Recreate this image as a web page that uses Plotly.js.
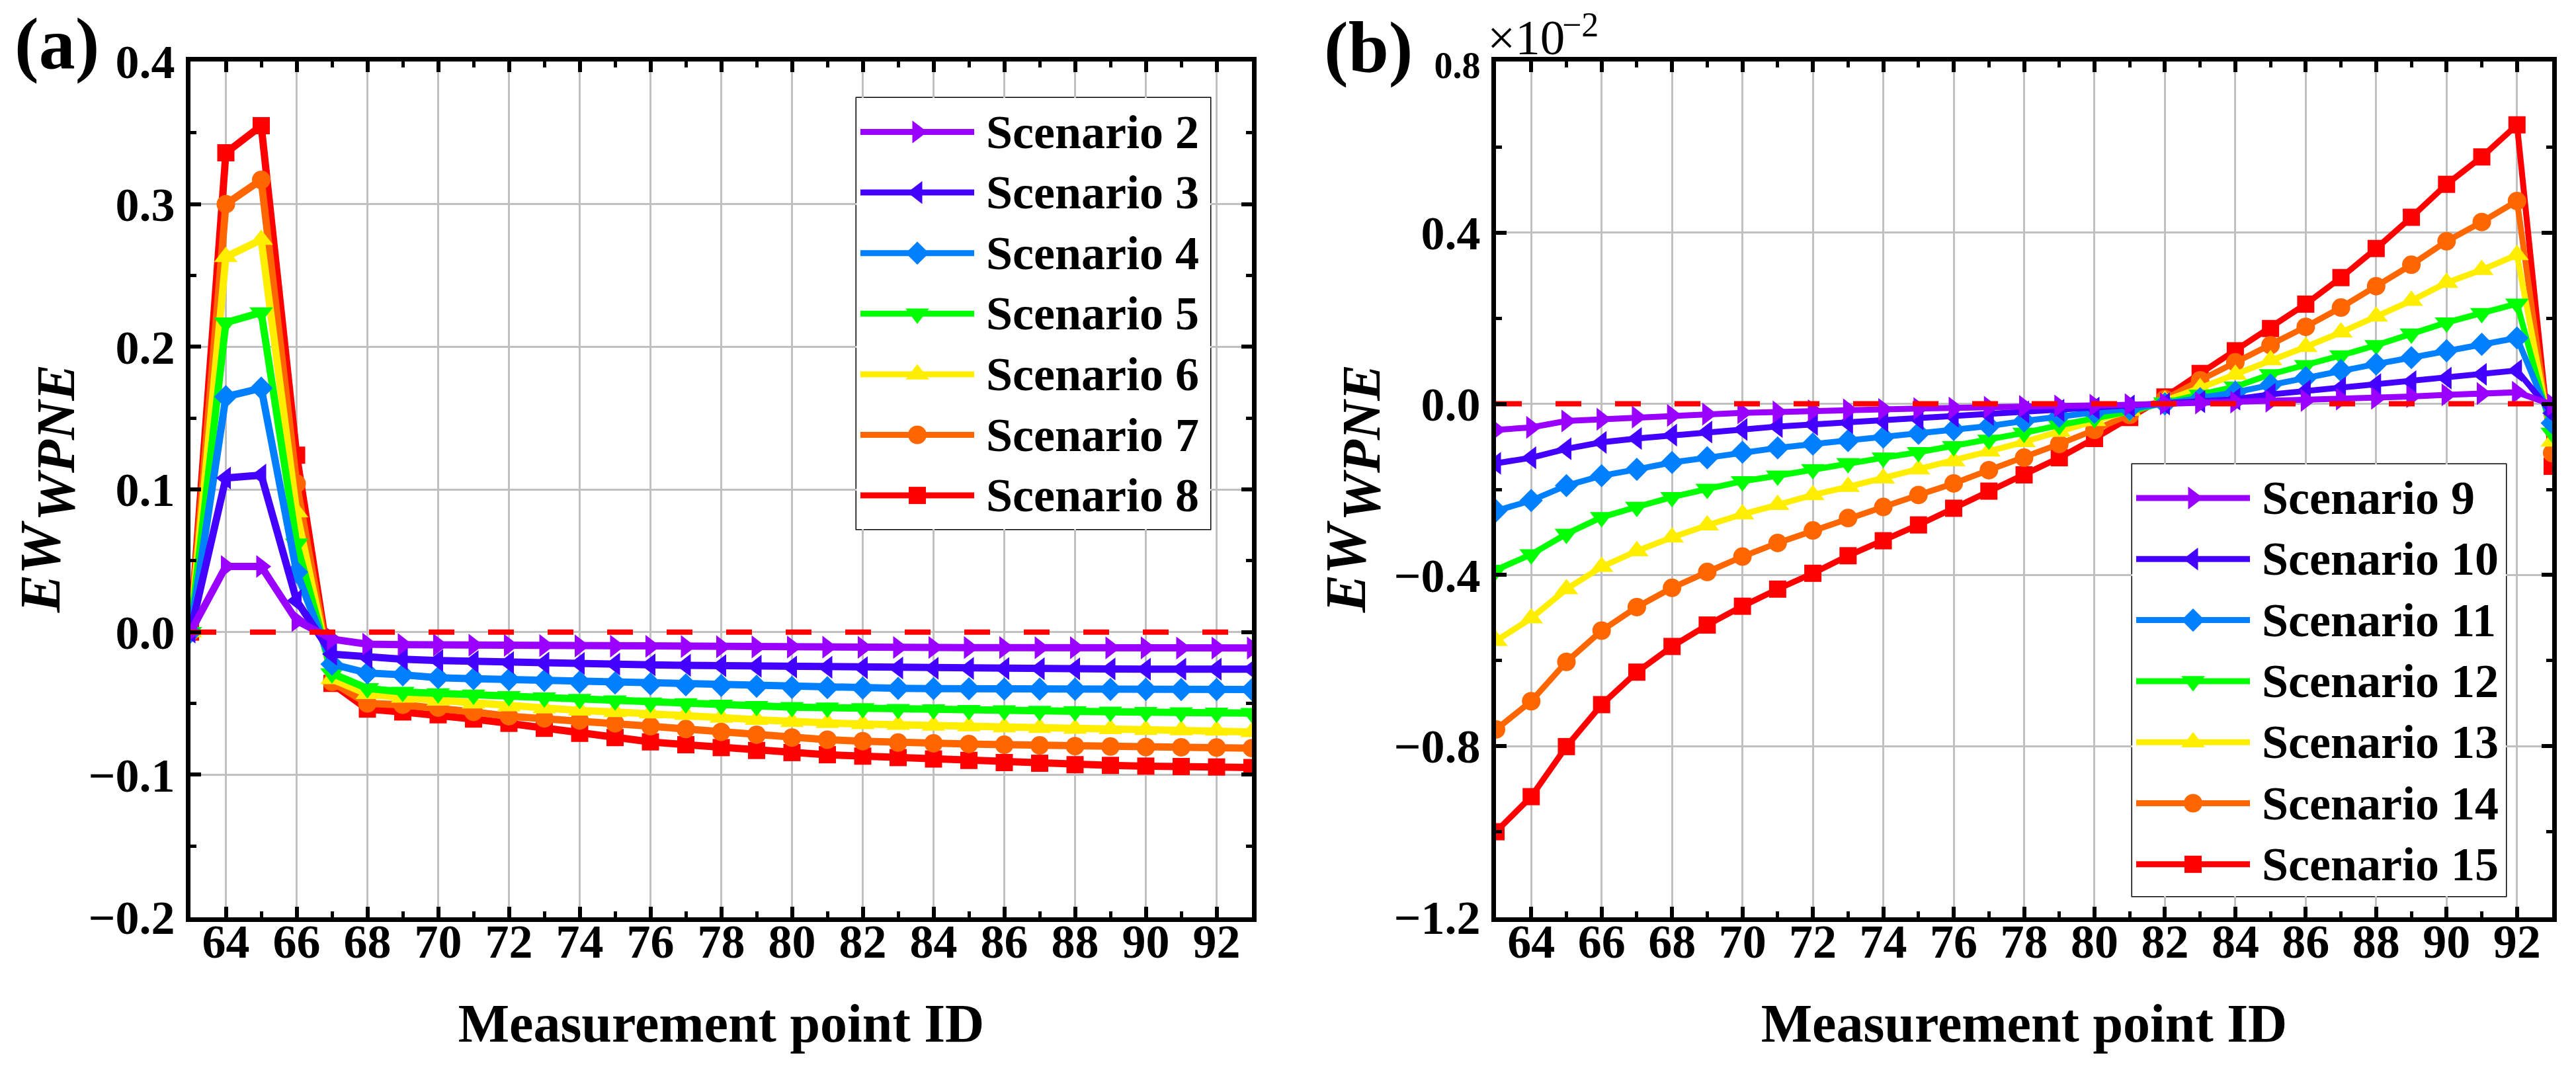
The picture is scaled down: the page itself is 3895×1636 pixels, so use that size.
<!DOCTYPE html>
<html>
<head>
<meta charset="utf-8">
<script src="https://cdn.plot.ly/plotly-3.0.1.min.js"></script>
<style>
  html, body { margin: 0; padding: 0; background: #ffffff; }
  #chart { width: 3895px; height: 1636px; }
</style>
</head>
<body>
<div id="chart"></div>
<script>
// ---------- Data ----------
const pointIds = [63, 64, 65, 66, 67, 68, 69, 70, 71, 72, 73, 74, 75, 76, 77, 78,
                  79, 80, 81, 82, 83, 84, 85, 86, 87, 88, 89, 90, 91, 92, 93];

// panel (a)
const namesA = ["Scenario 2", "Scenario 3", "Scenario 4", "Scenario 5",
                "Scenario 6", "Scenario 7", "Scenario 8"];
const scen2 = [0, 0.046, 0.046, 0.008, -0.005, -0.0085, -0.0088, -0.009, -0.0092, -0.0093, -0.0095,
               -0.0097, -0.0099, -0.010, -0.0102, -0.0103, -0.0104, -0.0105, -0.0106, -0.0107, -0.0108,
               -0.0108, -0.0109, -0.0109, -0.011, -0.011, -0.0111, -0.0111, -0.0112, -0.0112, -0.0112];
const scen3 = [0, 0.108, 0.110, 0.022, -0.0155, -0.0178, -0.019, -0.020, -0.0207, -0.0214, -0.0218,
               -0.022, -0.0225, -0.023, -0.0233, -0.0236, -0.024, -0.0245, -0.0247, -0.025, -0.0252,
               -0.0254, -0.0255, -0.0256, -0.0257, -0.0258, -0.0259, -0.026, -0.026, -0.026, -0.026];
const scen4 = [0, 0.165, 0.171, 0.042, -0.0225, -0.0287, -0.030, -0.032, -0.0327, -0.0333, -0.034,
               -0.035, -0.0357, -0.0364, -0.037, -0.0375, -0.038, -0.0388, -0.039, -0.0393, -0.0395,
               -0.0397, -0.0398, -0.040, -0.040, -0.0401, -0.0402, -0.0402, -0.0403, -0.0403, -0.0403];
const scen5 = [0, 0.217, 0.224, 0.062, -0.029, -0.0395, -0.042, -0.043, -0.044, -0.045, -0.046,
               -0.047, -0.048, -0.0495, -0.050, -0.051, -0.052, -0.0527, -0.053, -0.0535, -0.054,
               -0.0543, -0.0547, -0.055, -0.0553, -0.0556, -0.0559, -0.0562, -0.0564, -0.0566, -0.0568];
const scen6 = [0, 0.263, 0.275, 0.084, -0.033, -0.0434, -0.046, -0.048, -0.050, -0.052, -0.0535,
               -0.055, -0.056, -0.057, -0.058, -0.060, -0.0615, -0.063, -0.0637, -0.0645, -0.065,
               -0.0655, -0.066, -0.0667, -0.0672, -0.0677, -0.068, -0.0685, -0.0688, -0.069, -0.070];
const scen7 = [0, 0.300, 0.317, 0.104, -0.035, -0.050, -0.051, -0.053, -0.056, -0.059, -0.0605,
               -0.062, -0.064, -0.066, -0.068, -0.070, -0.072, -0.074, -0.0755, -0.0765, -0.0775,
               -0.078, -0.0785, -0.079, -0.0795, -0.080, -0.0803, -0.0806, -0.0808, -0.081, -0.0814];
const scen8 = [0, 0.336, 0.355, 0.124, -0.036, -0.054, -0.056, -0.058, -0.061, -0.064, -0.0675,
               -0.071, -0.074, -0.077, -0.079, -0.081, -0.083, -0.0845, -0.086, -0.087, -0.088,
               -0.089, -0.090, -0.0915, -0.092, -0.093, -0.0935, -0.094, -0.0943, -0.0946, -0.095];

// panel (b), values in units of 1e-2
const namesB = ["Scenario 9", "Scenario 10", "Scenario 11", "Scenario 12",
                "Scenario 13", "Scenario 14", "Scenario 15"];
const scen9 = [-0.061, -0.055, -0.040, -0.036, -0.031, -0.027, -0.024, -0.021, -0.019, -0.016, -0.014,
               -0.013, -0.011, -0.010, -0.008, -0.006, -0.005, -0.003, -0.002, 0.000, 0.002,
               0.004, 0.006, 0.008, 0.011, 0.013, 0.017, 0.021, 0.024, 0.027, -0.002];
const scen10 = [-0.139, -0.126, -0.105, -0.090, -0.081, -0.073, -0.066, -0.060, -0.053, -0.048, -0.044,
                -0.040, -0.035, -0.029, -0.025, -0.019, -0.015, -0.010, -0.005, 0.000, 0.005,
                0.011, 0.022, 0.030, 0.037, 0.045, 0.052, 0.060, 0.069, 0.078, -0.022];
const scen11 = [-0.250, -0.226, -0.191, -0.168, -0.153, -0.137, -0.126, -0.113, -0.103, -0.094, -0.086,
                -0.078, -0.069, -0.060, -0.052, -0.040, -0.029, -0.020, -0.012, 0.000, 0.012,
                0.027, 0.044, 0.061, 0.078, 0.093, 0.108, 0.124, 0.139, 0.154, -0.045];
const scen12 = [-0.388, -0.352, -0.304, -0.265, -0.241, -0.218, -0.199, -0.181, -0.168, -0.153, -0.139,
                -0.126, -0.113, -0.099, -0.084, -0.068, -0.050, -0.034, -0.018, 0.003, 0.021,
                0.040, 0.069, 0.090, 0.113, 0.137, 0.164, 0.190, 0.212, 0.234, -0.068];
const scen13 = [-0.554, -0.501, -0.433, -0.381, -0.344, -0.312, -0.284, -0.258, -0.236, -0.213, -0.194,
                -0.174, -0.153, -0.134, -0.111, -0.089, -0.065, -0.040, -0.016, 0.008, 0.037,
                0.068, 0.102, 0.133, 0.167, 0.204, 0.241, 0.283, 0.313, 0.348, -0.088];
const scen14 = [-0.761, -0.695, -0.603, -0.530, -0.475, -0.430, -0.393, -0.357, -0.325, -0.296, -0.267,
                -0.241, -0.213, -0.186, -0.155, -0.126, -0.094, -0.061, -0.026, 0.011, 0.055,
                0.097, 0.137, 0.180, 0.225, 0.275, 0.325, 0.380, 0.425, 0.474, -0.115];
const scen15 = [-1.000, -0.918, -0.801, -0.703, -0.627, -0.567, -0.517, -0.473, -0.433, -0.396, -0.355,
                -0.320, -0.283, -0.244, -0.204, -0.166, -0.126, -0.081, -0.032, 0.016, 0.071,
                0.124, 0.176, 0.233, 0.295, 0.363, 0.436, 0.513, 0.577, 0.652, -0.146];

const seriesA = [scen2, scen3, scen4, scen5, scen6, scen7, scen8];
const seriesB = [scen9, scen10, scen11, scen12, scen13, scen14, scen15];

const yTicksA = [-0.2, -0.1, 0.0, 0.1, 0.2, 0.3, 0.4];
const yTicksB = [-1.2, -0.8, -0.4, 0.0, 0.4, 0.8];
const yLabelsB = ["\u22121.2", "\u22120.8", "\u22120.4", "0.0", "0.4", "0.8"];

// ---------- Styles ----------
const COLORS = ["#9900ff", "#4400ff", "#0080ff", "#00ff00", "#ffee00", "#ff6600", "#ff0000"];
const SYMBOLS = ["triangle-right", "triangle-left", "diamond", "triangle-down",
                 "triangle-up", "circle", "square"];
const SYM_SIZE = { "triangle-right": 30, "triangle-left": 30, "diamond": 27, "triangle-down": 31,
                   "triangle-up": 31, "circle": 28, "square": 26 };
const FONT = "Liberation Serif, Times New Roman, serif";
const LINE_A = 11, LINE_B = 9, LINE_LEG = 9;

const W = 3895, H = 1636;
const fx = p => p / W;
const fy = p => 1 - p / H;

// plot frames in page pixels
const frameA = { left: 288, right: 1893, top: 93, bottom: 1387 };
const frameB = { left: 2262, right: 3859, top: 93, bottom: 1387 };
// legend boxes in page pixels
const legA = { left: 1295, top: 148, width: 535, height: 652, row0: 51.5, rowGap: 91.6 };
const legB = { left: 3224, top: 702, width: 565, height: 653, row0: 51, rowGap: 92.3 };

/* ---------- Traces ---------- */

const traces = [];

function addPanel(series, names, xa, ya, lineW) {
  // lower scenario numbers end up on top
  for (let k = series.length - 1; k >= 0; k--) {
    traces.push({
      type: "scatter", mode: "lines+markers", name: names[k],
      x: pointIds, y: series[k], xaxis: xa, yaxis: ya,
      line: { color: COLORS[k], width: lineW },
      marker: { symbol: SYMBOLS[k], size: SYM_SIZE[SYMBOLS[k]], color: COLORS[k] },
      showlegend: false, hoverinfo: "name+x+y"
    });
  }
  // red dashed zero reference
  traces.push({
    type: "scatter", mode: "lines", x: [pointIds[0], pointIds[pointIds.length - 1]], y: [0, 0],
    xaxis: xa, yaxis: ya, line: { color: "#ff0000", width: 8, dash: "39px,51px" },
    showlegend: false, hoverinfo: "skip"
  });
}

addPanel(seriesA, namesA, "x", "y", LINE_A);
addPanel(seriesB, namesB, "x2", "y2", LINE_B);

// hand-made legends: each one lives on its own hidden axis pair (pixel units inside the box)
const annotations = [];
const shapes = [];

function addLegend(names, box, xa, ya) {
  names.forEach((nm, k) => {
    const rowY = box.row0 + k * box.rowGap;
    traces.push({
      type: "scatter", mode: "lines+markers", x: [6, 92, 178], y: [rowY, rowY, rowY],
      xaxis: xa, yaxis: ya, cliponaxis: false,
      line: { color: COLORS[k], width: LINE_LEG },
      marker: { symbol: SYMBOLS[k], size: SYM_SIZE[SYMBOLS[k]], color: COLORS[k], opacity: [0, 1, 0] },
      showlegend: false, hoverinfo: "skip"
    });
    annotations.push({
      xref: xa, yref: ya, x: 194, y: rowY, xanchor: "left", yanchor: "middle",
      text: nm, showarrow: false,
      font: { family: FONT, size: 72, color: "#000", weight: "bold" }
    });
  });
  shapes.push({
    type: "rect", xref: xa + " domain", yref: ya + " domain", x0: 0, x1: 1, y0: 0, y1: 1,
    layer: "below", fillcolor: "#ffffff", line: { color: "#000000", width: 3 }
  });
}

addLegend(namesA, legA, "x3", "y3");
addLegend(namesB, legB, "x4", "y4");

/* ---------- Layout ---------- */

function xAxis(frame, anchor) {
  return {
    domain: [fx(frame.left), fx(frame.right)], anchor: anchor,
    range: [63, 93], tickmode: "linear", tick0: 64, dtick: 2,
    ticks: "inside", ticklen: 16, tickwidth: 6, tickcolor: "#000",
    showline: true, linewidth: 7, linecolor: "#000", mirror: "ticks",
    showgrid: true, gridcolor: "#c0c0c0", gridwidth: 3, zeroline: false,
    minor: { dtick: 1, ticks: "inside", ticklen: 9, tickwidth: 5, tickcolor: "#000", showgrid: false },
    tickfont: { family: FONT, size: 72, color: "#000", weight: "bold" },
    ticklabelstandoff: -32,
    title: { text: "Measurement point ID", standoff: 57,
             font: { family: FONT, size: 82, color: "#000", weight: "bold" } },
    fixedrange: true
  };
}

function yAxis(frame, anchor) {
  return {
    domain: [fy(frame.bottom), fy(frame.top)], anchor: anchor,
    ticks: "inside", ticklen: 16, tickwidth: 6, tickcolor: "#000",
    showline: true, linewidth: 7, linecolor: "#000", mirror: "ticks",
    showgrid: true, gridcolor: "#c0c0c0", gridwidth: 3, zeroline: false,
    tickfont: { family: FONT, size: 72, color: "#000", weight: "bold" },
    ticklabelstandoff: 2,
    fixedrange: true
  };
}

const xa = xAxis(frameA, "y");
const ya = Object.assign(yAxis(frameA, "x"), {
  range: [-0.2, 0.4], tickmode: "array", tickvals: yTicksA, tickformat: ".1f",
  minor: { dtick: 0.05, ticks: "inside", ticklen: 9, tickwidth: 5, tickcolor: "#000", showgrid: false }
});
const xb = xAxis(frameB, "y2");
const yb = Object.assign(yAxis(frameB, "x2"), {
  range: [-1.2, 0.8], tickmode: "array", tickvals: yTicksB,
  ticktext: yLabelsB.map((t, i) => i === yLabelsB.length - 1 ? '<span style="font-size:56px">' + t + "</span>" : t),
  minor: { tick0: 0, dtick: 0.2, ticks: "inside", ticklen: 9, tickwidth: 5, tickcolor: "#000", showgrid: false }
});

function legendAxes(box) {
  const hidden = { visible: false, fixedrange: true };
  return [
    Object.assign({ domain: [fx(box.left), fx(box.left + box.width)], range: [0, box.width] }, hidden),
    Object.assign({ domain: [fy(box.top + box.height), fy(box.top)], range: [box.height, 0] }, hidden)
  ];
}
const [x3, y3] = legendAxes(legA);
const [x4, y4] = legendAxes(legB);
x3.anchor = "y3"; y3.anchor = "x3";
x4.anchor = "y4"; y4.anchor = "x4";

// y titles: "EW" with a full-size, lowered "WPNE" after it (rotated, read bottom to top)
function addYTitle(axisLeft) {
  const tfont = { family: FONT, color: "#000", weight: "bold", style: "italic" };
  annotations.push(
    { xref: "paper", yref: "paper", x: fx(axisLeft - 227), y: fy(857), xanchor: "center", yanchor: "middle",
      textangle: -90, text: "EW", showarrow: false, font: Object.assign({ size: 86 }, tfont) },
    { xref: "paper", yref: "paper", x: fx(axisLeft - 204), y: fy(670), xanchor: "center", yanchor: "middle",
      textangle: -90, text: "WPNE", showarrow: false, font: Object.assign({ size: 82 }, tfont) }
  );
}
addYTitle(frameA.left);
addYTitle(frameB.left);

// panel letters and the multiplier (×10 with a raised −2) of panel (b)
annotations.push(
  { xref: "paper", yref: "paper", x: fx(20), y: fy(66), xanchor: "left", yanchor: "middle",
    text: "(a)", showarrow: false, font: { family: FONT, size: 110, color: "#000", weight: "bold" } },
  { xref: "paper", yref: "paper", x: fx(2000), y: fy(72), xanchor: "left", yanchor: "middle",
    text: "(b)", showarrow: false, font: { family: FONT, size: 110, color: "#000", weight: "bold" } },
  { xref: "paper", yref: "paper", x: fx(2247), y: fy(100), xanchor: "left", yanchor: "bottom",
    text: "\u00d710", showarrow: false, font: { family: FONT, size: 75, color: "#000" } },
  { xref: "paper", yref: "paper", x: fx(2360), y: fy(68), xanchor: "left", yanchor: "bottom",
    text: "\u22122", showarrow: false, font: { family: FONT, size: 52, color: "#000" } }
);

const layout = {
  width: W, height: H,
  margin: { l: 0, r: 0, t: 0, b: 0, pad: 0 },
  paper_bgcolor: "#ffffff", plot_bgcolor: "#ffffff",
  showlegend: false,
  xaxis: xa, yaxis: ya, xaxis2: xb, yaxis2: yb,
  xaxis3: x3, yaxis3: y3, xaxis4: x4, yaxis4: y4,
  annotations: annotations, shapes: shapes
};

Plotly.newPlot("chart", traces, layout, { staticPlot: true, displayModeBar: false });
</script>
</body>
</html>
